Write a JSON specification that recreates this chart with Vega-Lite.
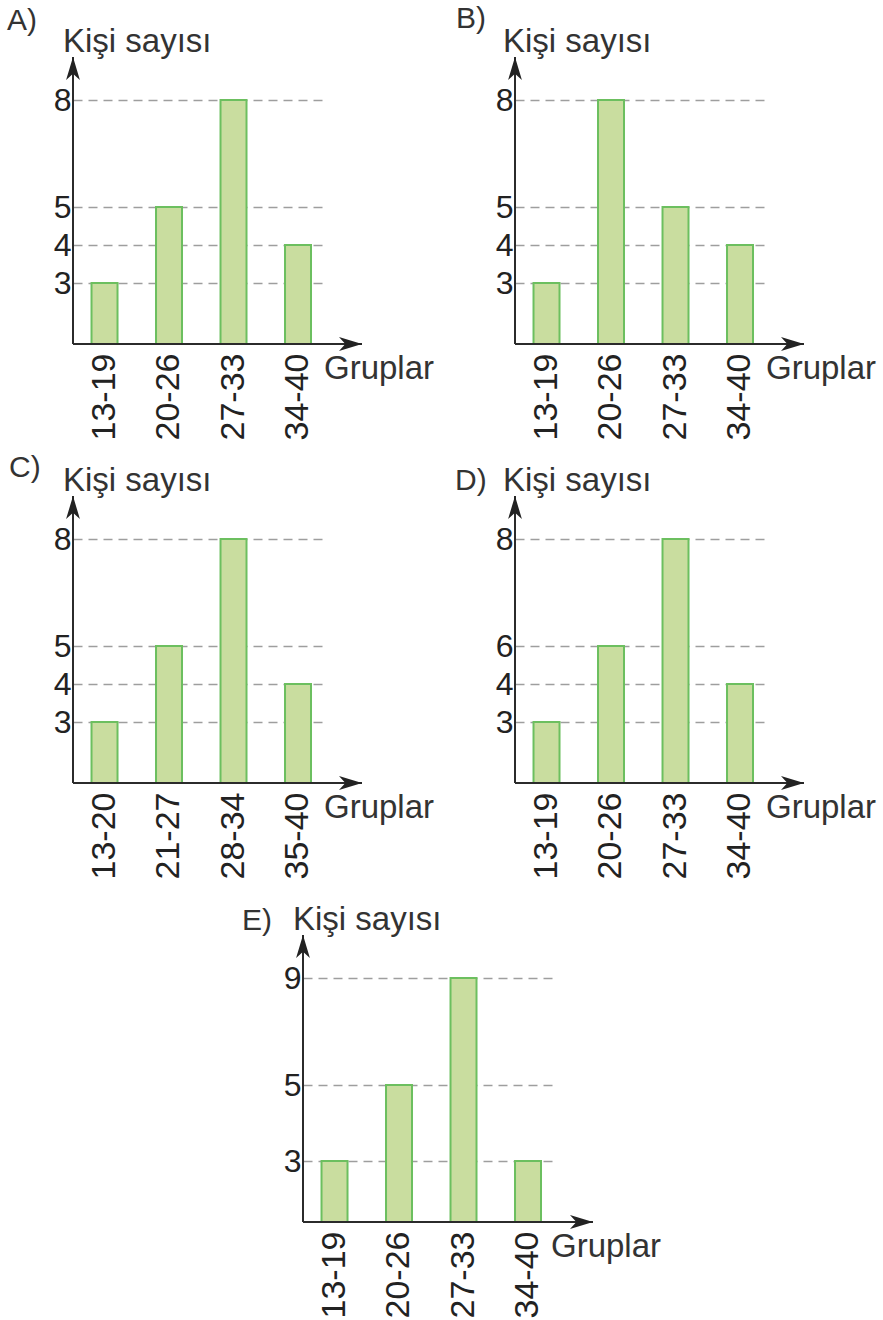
{
  "$schema": "https://vega.github.io/schema/vega-lite/v6.json",
  "background": "white",
  "padding": {"left": 7, "top": 4, "right": 0, "bottom": 0},
  "datasets": {
    "A": [{"group": "13-19", "count": 3}, {"group": "20-26", "count": 5}, {"group": "27-33", "count": 8}, {"group": "34-40", "count": 4}],
    "B": [{"group": "13-19", "count": 3}, {"group": "20-26", "count": 8}, {"group": "27-33", "count": 5}, {"group": "34-40", "count": 4}],
    "C": [{"group": "13-20", "count": 3}, {"group": "21-27", "count": 5}, {"group": "28-34", "count": 8}, {"group": "35-40", "count": 4}],
    "D": [{"group": "13-19", "count": 3}, {"group": "20-26", "count": 6}, {"group": "27-33", "count": 8}, {"group": "34-40", "count": 4}],
    "E": [{"group": "13-19", "count": 3}, {"group": "20-26", "count": 5}, {"group": "27-33", "count": 9}, {"group": "34-40", "count": 3}]
  },
  "columns": 1,
  "align": "all",
  "spacing": 13,
  "concat": [
    {
      "bounds": "flush",
      "spacing": 192,
      "hconcat": [
        {
          "width": 250, "height": 287,
          "resolve": {"scale": {"x": "independent"}},
          "layer": [
            {
              "data": {"name": "A"},
              "mark": {"type": "bar", "fill": "#c9dd9f", "stroke": "#6cbf5f", "strokeWidth": 2},
              "encoding": {
                "x": {"field": "group", "type": "nominal", "sort": null, "scale": {"paddingInner": 0.597, "paddingOuter": 0.2365, "align": 0.607}, "axis": {"title": null, "labelAngle": 270, "labelAlign": "right", "labelBaseline": "middle"}},
                "y": {"field": "count", "type": "quantitative", "scale": {"domain": [1.3, 3, 4, 5, 8, 9.2], "range": [287, 226, 188, 150, 43, 0], "nice": false, "zero": false}, "axis": {"title": null, "values": [3, 4, 5, 8]}},
                "y2": {"datum": 1.3}
              }
            },
            {
              "data": {"values": [{"panel": "A)"}]},
              "encoding": {
                "x": {"datum": 0, "type": "quantitative", "scale": {"domain": [0, 1], "nice": false, "zero": false}, "axis": null},
                "y": {"datum": 9.2, "type": "quantitative"}
              },
              "layer": [
                {"mark": {"type": "rule", "color": "#2b2b2b", "strokeWidth": 2}, "encoding": {"y": {"datum": 1.3, "type": "quantitative"}, "y2": {"datum": 9.2}}},
                {"mark": {"type": "rule", "color": "#2b2b2b", "strokeWidth": 2}, "encoding": {"y": {"datum": 1.3, "type": "quantitative"}, "x2": {"datum": 1.156}}},
                {"mark": {"type": "point", "shape": "M0,0L0.6,2L0,1.45L-0.6,2Z", "size": 529, "filled": true, "color": "#222", "opacity": 1}, "encoding": {}},
                {"mark": {"type": "point", "shape": "M0,0L-2,-0.6L-1.45,0L-2,0.6Z", "size": 529, "filled": true, "color": "#222", "opacity": 1}, "encoding": {"x": {"datum": 1.156, "type": "quantitative"}, "y": {"datum": 1.3, "type": "quantitative"}}},
                {"mark": {"type": "text", "text": "Kişi sayısı", "align": "left", "baseline": "alphabetic", "dx": -10, "dy": -5, "fontSize": 33, "color": "#333"}, "encoding": {}},
                {"mark": {"type": "text", "align": "left", "baseline": "alphabetic", "dx": -66, "dy": -27, "fontSize": 30, "color": "#333"}, "encoding": {"text": {"field": "panel"}}},
                {"mark": {"type": "text", "text": "Gruplar", "align": "left", "baseline": "alphabetic", "dx": -38, "dy": 35, "fontSize": 33, "color": "#333"}, "encoding": {"x": {"datum": 1.156, "type": "quantitative"}, "y": {"datum": 1.3, "type": "quantitative"}}}
              ]
            }
          ]
        },
        {
          "width": 250, "height": 287,
          "resolve": {"scale": {"x": "independent"}},
          "layer": [
            {
              "data": {"name": "B"},
              "mark": {"type": "bar", "fill": "#c9dd9f", "stroke": "#6cbf5f", "strokeWidth": 2},
              "encoding": {
                "x": {"field": "group", "type": "nominal", "sort": null, "scale": {"paddingInner": 0.597, "paddingOuter": 0.2365, "align": 0.607}, "axis": {"title": null, "labelAngle": 270, "labelAlign": "right", "labelBaseline": "middle"}},
                "y": {"field": "count", "type": "quantitative", "scale": {"domain": [1.3, 3, 4, 5, 8, 9.2], "range": [287, 226, 188, 150, 43, 0], "nice": false, "zero": false}, "axis": {"title": null, "values": [3, 4, 5, 8]}},
                "y2": {"datum": 1.3}
              }
            },
            {
              "data": {"values": [{"panel": "B)"}]},
              "encoding": {
                "x": {"datum": 0, "type": "quantitative", "scale": {"domain": [0, 1], "nice": false, "zero": false}, "axis": null},
                "y": {"datum": 9.2, "type": "quantitative"}
              },
              "layer": [
                {"mark": {"type": "rule", "color": "#2b2b2b", "strokeWidth": 2}, "encoding": {"y": {"datum": 1.3, "type": "quantitative"}, "y2": {"datum": 9.2}}},
                {"mark": {"type": "rule", "color": "#2b2b2b", "strokeWidth": 2}, "encoding": {"y": {"datum": 1.3, "type": "quantitative"}, "x2": {"datum": 1.156}}},
                {"mark": {"type": "point", "shape": "M0,0L0.6,2L0,1.45L-0.6,2Z", "size": 529, "filled": true, "color": "#222", "opacity": 1}, "encoding": {}},
                {"mark": {"type": "point", "shape": "M0,0L-2,-0.6L-1.45,0L-2,0.6Z", "size": 529, "filled": true, "color": "#222", "opacity": 1}, "encoding": {"x": {"datum": 1.156, "type": "quantitative"}, "y": {"datum": 1.3, "type": "quantitative"}}},
                {"mark": {"type": "text", "text": "Kişi sayısı", "align": "left", "baseline": "alphabetic", "dx": -12, "dy": -5, "fontSize": 33, "color": "#333"}, "encoding": {}},
                {"mark": {"type": "text", "align": "left", "baseline": "alphabetic", "dx": -59, "dy": -29, "fontSize": 30, "color": "#333"}, "encoding": {"text": {"field": "panel"}}},
                {"mark": {"type": "text", "text": "Gruplar", "align": "left", "baseline": "alphabetic", "dx": -38, "dy": 35, "fontSize": 33, "color": "#333"}, "encoding": {"x": {"datum": 1.156, "type": "quantitative"}, "y": {"datum": 1.3, "type": "quantitative"}}}
              ]
            }
          ]
        }
      ]
    },
    {
      "bounds": "flush",
      "spacing": 192,
      "hconcat": [
        {
          "width": 250, "height": 287,
          "resolve": {"scale": {"x": "independent"}},
          "layer": [
            {
              "data": {"name": "C"},
              "mark": {"type": "bar", "fill": "#c9dd9f", "stroke": "#6cbf5f", "strokeWidth": 2},
              "encoding": {
                "x": {"field": "group", "type": "nominal", "sort": null, "scale": {"paddingInner": 0.597, "paddingOuter": 0.2365, "align": 0.607}, "axis": {"title": null, "labelAngle": 270, "labelAlign": "right", "labelBaseline": "middle"}},
                "y": {"field": "count", "type": "quantitative", "scale": {"domain": [1.3, 3, 4, 5, 8, 9.2], "range": [287, 226, 188, 150, 43, 0], "nice": false, "zero": false}, "axis": {"title": null, "values": [3, 4, 5, 8]}},
                "y2": {"datum": 1.3}
              }
            },
            {
              "data": {"values": [{"panel": "C)"}]},
              "encoding": {
                "x": {"datum": 0, "type": "quantitative", "scale": {"domain": [0, 1], "nice": false, "zero": false}, "axis": null},
                "y": {"datum": 9.2, "type": "quantitative"}
              },
              "layer": [
                {"mark": {"type": "rule", "color": "#2b2b2b", "strokeWidth": 2}, "encoding": {"y": {"datum": 1.3, "type": "quantitative"}, "y2": {"datum": 9.2}}},
                {"mark": {"type": "rule", "color": "#2b2b2b", "strokeWidth": 2}, "encoding": {"y": {"datum": 1.3, "type": "quantitative"}, "x2": {"datum": 1.156}}},
                {"mark": {"type": "point", "shape": "M0,0L0.6,2L0,1.45L-0.6,2Z", "size": 529, "filled": true, "color": "#222", "opacity": 1}, "encoding": {}},
                {"mark": {"type": "point", "shape": "M0,0L-2,-0.6L-1.45,0L-2,0.6Z", "size": 529, "filled": true, "color": "#222", "opacity": 1}, "encoding": {"x": {"datum": 1.156, "type": "quantitative"}, "y": {"datum": 1.3, "type": "quantitative"}}},
                {"mark": {"type": "text", "text": "Kişi sayısı", "align": "left", "baseline": "alphabetic", "dx": -10, "dy": -5, "fontSize": 33, "color": "#333"}, "encoding": {}},
                {"mark": {"type": "text", "align": "left", "baseline": "alphabetic", "dx": -64, "dy": -19, "fontSize": 30, "color": "#333"}, "encoding": {"text": {"field": "panel"}}},
                {"mark": {"type": "text", "text": "Gruplar", "align": "left", "baseline": "alphabetic", "dx": -38, "dy": 35, "fontSize": 33, "color": "#333"}, "encoding": {"x": {"datum": 1.156, "type": "quantitative"}, "y": {"datum": 1.3, "type": "quantitative"}}}
              ]
            }
          ]
        },
        {
          "width": 250, "height": 287,
          "resolve": {"scale": {"x": "independent"}},
          "layer": [
            {
              "data": {"name": "D"},
              "mark": {"type": "bar", "fill": "#c9dd9f", "stroke": "#6cbf5f", "strokeWidth": 2},
              "encoding": {
                "x": {"field": "group", "type": "nominal", "sort": null, "scale": {"paddingInner": 0.597, "paddingOuter": 0.2365, "align": 0.607}, "axis": {"title": null, "labelAngle": 270, "labelAlign": "right", "labelBaseline": "middle"}},
                "y": {"field": "count", "type": "quantitative", "scale": {"domain": [1.3, 3, 4, 6, 8, 9.2], "range": [287, 226, 188, 150, 43, 0], "nice": false, "zero": false}, "axis": {"title": null, "values": [3, 4, 6, 8]}},
                "y2": {"datum": 1.3}
              }
            },
            {
              "data": {"values": [{"panel": "D)"}]},
              "encoding": {
                "x": {"datum": 0, "type": "quantitative", "scale": {"domain": [0, 1], "nice": false, "zero": false}, "axis": null},
                "y": {"datum": 9.2, "type": "quantitative"}
              },
              "layer": [
                {"mark": {"type": "rule", "color": "#2b2b2b", "strokeWidth": 2}, "encoding": {"y": {"datum": 1.3, "type": "quantitative"}, "y2": {"datum": 9.2}}},
                {"mark": {"type": "rule", "color": "#2b2b2b", "strokeWidth": 2}, "encoding": {"y": {"datum": 1.3, "type": "quantitative"}, "x2": {"datum": 1.156}}},
                {"mark": {"type": "point", "shape": "M0,0L0.6,2L0,1.45L-0.6,2Z", "size": 529, "filled": true, "color": "#222", "opacity": 1}, "encoding": {}},
                {"mark": {"type": "point", "shape": "M0,0L-2,-0.6L-1.45,0L-2,0.6Z", "size": 529, "filled": true, "color": "#222", "opacity": 1}, "encoding": {"x": {"datum": 1.156, "type": "quantitative"}, "y": {"datum": 1.3, "type": "quantitative"}}},
                {"mark": {"type": "text", "text": "Kişi sayısı", "align": "left", "baseline": "alphabetic", "dx": -12, "dy": -5, "fontSize": 33, "color": "#333"}, "encoding": {}},
                {"mark": {"type": "text", "align": "left", "baseline": "alphabetic", "dx": -60, "dy": -6, "fontSize": 30, "color": "#333"}, "encoding": {"text": {"field": "panel"}}},
                {"mark": {"type": "text", "text": "Gruplar", "align": "left", "baseline": "alphabetic", "dx": -38, "dy": 35, "fontSize": 33, "color": "#333"}, "encoding": {"x": {"datum": 1.156, "type": "quantitative"}, "y": {"datum": 1.3, "type": "quantitative"}}}
              ]
            }
          ]
        }
      ]
    },
    {
      "bounds": "flush",
      "spacing": 192,
      "hconcat": [
        {
          "width": 38, "height": 287,
          "data": {"values": []},
          "mark": "point"
        },
        {
          "width": 250, "height": 287,
          "resolve": {"scale": {"x": "independent"}},
          "layer": [
            {
              "data": {"name": "E"},
              "mark": {"type": "bar", "fill": "#c9dd9f", "stroke": "#6cbf5f", "strokeWidth": 2},
              "encoding": {
                "x": {"field": "group", "type": "nominal", "sort": null, "scale": {"paddingInner": 0.597, "paddingOuter": 0.2365, "align": 0.607}, "axis": {"title": null, "labelAngle": 270, "labelAlign": "right", "labelBaseline": "middle"}},
                "y": {"field": "count", "type": "quantitative", "scale": {"domain": [1.4, 3, 5, 9, 10.3], "range": [287, 226, 150, 43, 0], "nice": false, "zero": false}, "axis": {"title": null, "values": [3, 5, 9]}},
                "y2": {"datum": 1.4}
              }
            },
            {
              "data": {"values": [{"panel": "E)"}]},
              "encoding": {
                "x": {"datum": 0, "type": "quantitative", "scale": {"domain": [0, 1], "nice": false, "zero": false}, "axis": null},
                "y": {"datum": 10.3, "type": "quantitative"}
              },
              "layer": [
                {"mark": {"type": "rule", "color": "#2b2b2b", "strokeWidth": 2}, "encoding": {"y": {"datum": 1.4, "type": "quantitative"}, "y2": {"datum": 10.3}}},
                {"mark": {"type": "rule", "color": "#2b2b2b", "strokeWidth": 2}, "encoding": {"y": {"datum": 1.4, "type": "quantitative"}, "x2": {"datum": 1.16}}},
                {"mark": {"type": "point", "shape": "M0,0L0.6,2L0,1.45L-0.6,2Z", "size": 529, "filled": true, "color": "#222", "opacity": 1}, "encoding": {}},
                {"mark": {"type": "point", "shape": "M0,0L-2,-0.6L-1.45,0L-2,0.6Z", "size": 529, "filled": true, "color": "#222", "opacity": 1}, "encoding": {"x": {"datum": 1.16, "type": "quantitative"}, "y": {"datum": 1.4, "type": "quantitative"}}},
                {"mark": {"type": "text", "text": "Kişi sayısı", "align": "left", "baseline": "alphabetic", "dx": -10, "dy": -5, "fontSize": 33, "color": "#333"}, "encoding": {}},
                {"mark": {"type": "text", "align": "left", "baseline": "alphabetic", "dx": -61, "dy": -5, "fontSize": 30, "color": "#333"}, "encoding": {"text": {"field": "panel"}}},
                {"mark": {"type": "text", "text": "Gruplar", "align": "left", "baseline": "alphabetic", "dx": -42, "dy": 35, "fontSize": 33, "color": "#333"}, "encoding": {"x": {"datum": 1.16, "type": "quantitative"}, "y": {"datum": 1.4, "type": "quantitative"}}}
              ]
            }
          ]
        }
      ]
    }
  ],
  "config": {
    "view": {"stroke": null},
    "font": "Liberation Sans",
    "axisX": {"labelFontSize": 34, "labelPadding": 9, "ticks": false, "domain": false, "grid": false, "labelColor": "#222", "labelFont": "Liberation Sans", "labelOverlap": false},
    "axisY": {"labelFontSize": 32, "labelPadding": 2, "ticks": false, "domain": false, "grid": true, "gridDash": [9, 6], "gridColor": "#9e9e9e", "gridWidth": 1.5, "labelColor": "#222", "labelFont": "Liberation Sans", "labelOverlap": false}
  }
}
